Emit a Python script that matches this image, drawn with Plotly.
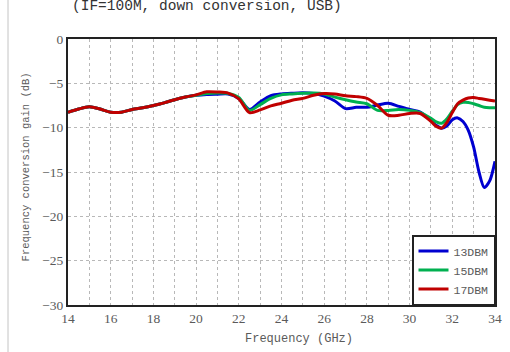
import plotly.graph_objects as go

# Frequency points (GHz)
freq = [14, 14.5, 15, 15.5, 16, 16.5, 17, 17.5, 18, 18.5, 19, 19.5, 20, 20.5,
        21, 21.5, 22, 22.5, 23, 23.5, 24, 24.5, 25, 25.5, 26, 26.5, 27, 27.5,
        28, 28.5, 29, 29.5, 30, 30.5, 31, 31.25, 31.5, 31.75, 32, 32.25, 32.5,
        32.75, 33, 33.25, 33.5, 33.75, 34]

# Conversion gain (dB) for each LO drive level
gain_13dbm = [-8.27, -7.9, -7.65, -7.9, -8.25, -8.25, -7.95, -7.75, -7.5, -7.2,
              -6.85, -6.55, -6.35, -6.25, -6.22, -6.2, -6.7, -7.95, -7.1, -6.4,
              -6.2, -6.12, -6.07, -6.15, -6.45, -7.0, -7.85, -7.7, -7.7, -7.45,
              -7.25, -7.6, -7.95, -8.25, -9.2, -9.75, -10.07, -9.8, -9.1, -8.9,
              -9.3, -10.3, -12.2, -15.0, -16.75, -16.0, -13.8]
gain_15dbm = [-8.27, -7.9, -7.65, -7.9, -8.25, -8.25, -7.95, -7.75, -7.5, -7.2,
              -6.85, -6.55, -6.35, -6.15, -6.1, -6.15, -6.6, -8.05, -7.4, -6.7,
              -6.3, -6.2, -6.13, -6.1, -6.2, -6.55, -6.85, -7.1, -7.3, -8.05,
              -8.05, -7.95, -8.05, -8.3, -8.94, -9.35, -9.5, -9.0, -8.15, -7.4,
              -7.15, -7.15, -7.3, -7.5, -7.7, -7.75, -7.75]
gain_17dbm = [-8.27, -7.9, -7.65, -7.9, -8.25, -8.25, -7.95, -7.75, -7.5, -7.2,
              -6.85, -6.55, -6.3, -5.95, -5.98, -6.1, -6.75, -8.3, -8.0, -7.55,
              -7.25, -6.9, -6.7, -6.35, -6.15, -6.2, -6.4, -6.5, -6.7, -7.5,
              -8.6, -8.6, -8.4, -8.4, -9.3, -9.85, -10.05, -9.4, -8.3, -7.3,
              -6.9, -6.65, -6.6, -6.7, -6.8, -6.9, -7.0]

series_names = ["13DBM", "15DBM", "17DBM"]
series_colors = ["#0000D0", "#00B050", "#C00000"]

title_text = "(IF=100M, down conversion, USB)"
x_title = "Frequency (GHz)"
y_title = "Frequency conversion gain (dB)"

TEXT_FONT = "Liberation Serif"
MONO_FONT = "Liberation Mono"
TEXT_COLOR = "#5a5a5a"

fig = go.Figure()
for name, color, ys in zip(series_names, series_colors,
                           [gain_13dbm, gain_15dbm, gain_17dbm]):
    fig.add_trace(go.Scatter(
        x=freq, y=ys, name=name, mode="lines",
        line=dict(color=color, width=3, shape="spline", smoothing=0.8),
    ))

fig.update_layout(
    width=510, height=352,
    margin=dict(l=68, r=8, t=39, b=47),
    paper_bgcolor="white", plot_bgcolor="white",
    font=dict(family=TEXT_FONT, size=13, color=TEXT_COLOR),
    showlegend=True,
    legend=dict(
        x=1, y=0, xanchor="right", yanchor="bottom",
        bgcolor="white", bordercolor="#222222", borderwidth=1.5,
        font=dict(family=MONO_FONT, size=11.5, color=TEXT_COLOR),
        itemwidth=30, tracegroupgap=0,
    ),
    xaxis=dict(
        range=[14, 34], dtick=2, tick0=14,
        showline=True, linecolor="#222222", linewidth=2, mirror=True,
        showgrid=True, gridcolor="#b8b8b8", griddash="dot", gridwidth=1,
        minor=dict(dtick=1, showgrid=True, gridcolor="#b8b8b8",
                   griddash="dot", gridwidth=1),
        ticks="", zeroline=False,
        tickfont=dict(family=TEXT_FONT, size=13.5, color=TEXT_COLOR),
    ),
    yaxis=dict(
        range=[-30, 0], dtick=5,
        showline=True, linecolor="#222222", linewidth=2, mirror=True,
        showgrid=True, gridcolor="#b8b8b8", griddash="dot", gridwidth=1,
        ticks="", zeroline=False, tickformat="d",
        tickfont=dict(family=TEXT_FONT, size=13.5, color=TEXT_COLOR),
    ),
)

# Axis titles and header line
fig.add_annotation(text=x_title, xref="paper", yref="paper",
                   x=0.54, y=-0.128, xanchor="center", yanchor="middle",
                   showarrow=False,
                   font=dict(family=MONO_FONT, size=12, color=TEXT_COLOR))
fig.add_annotation(text=y_title, xref="paper", yref="paper",
                   x=-0.099, y=0.52, xanchor="center", yanchor="middle",
                   textangle=-90, showarrow=False,
                   font=dict(family=MONO_FONT, size=10.5, color=TEXT_COLOR))
fig.add_annotation(text=title_text, xref="paper", yref="paper",
                   x=0.005, y=1.1225, xanchor="left", yanchor="middle",
                   showarrow=False,
                   font=dict(family=MONO_FONT, size=14.5, color="#333333"))

# Page edge at left
fig.add_shape(type="line", xref="paper", yref="paper",
              x0=-0.1405, x1=-0.1405, y0=-0.2, y1=1.2,
              line=dict(color="#d8d8d8", width=1.5))

fig.write_html("out.html")
